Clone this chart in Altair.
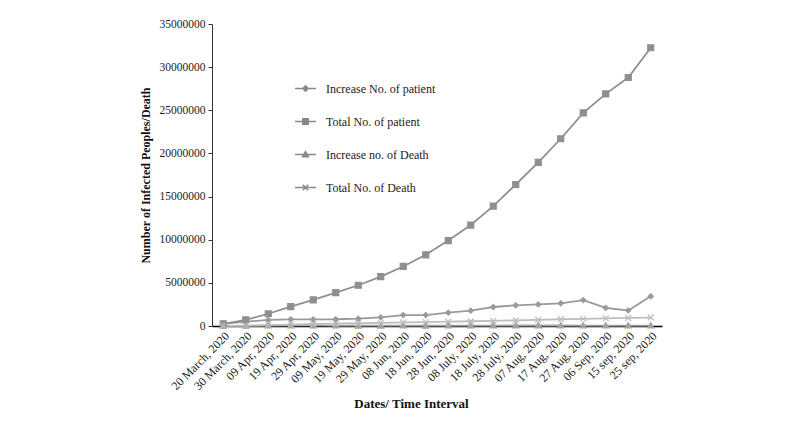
import altair as alt
import pandas as pd

dates = ["20 March, 2020", "30 March, 2020", "09 Apr, 2020", "19 Apr, 2020", "29 Apr, 2020",
         "09 May, 2020", "19 May, 2020", "29 May, 2020", "08 Jun, 2020", "18 Jun, 2020",
         "28 Jun, 2020", "08 July, 2020", "18 July, 2020", "28 July, 2020", "07 Aug, 2020",
         "17 Aug, 2020", "27 Aug, 2020", "06 Sep, 2020", "15 sep, 2020", "25 sep, 2020"]

inc_patient = [250000, 500000, 700000, 770000, 770000, 780000, 850000, 1000000, 1270000, 1270000,
               1550000, 1780000, 2200000, 2400000, 2500000, 2630000, 3000000, 2100000, 1800000, 3440000]
total_patient = [250000, 700000, 1420000, 2240000, 3020000, 3860000, 4720000, 5720000, 6900000, 8250000,
                 9900000, 11700000, 13900000, 16400000, 18970000, 21700000, 24700000, 26900000, 28800000, 32250000]
inc_death = [11000, 26000, 58000, 65000, 70000, 50000, 40000, 40000, 50000, 40000,
             50000, 50000, 50000, 60000, 60000, 60000, 50000, 50000, 50000, 50000]
total_death = [11000, 37000, 95000, 160000, 230000, 280000, 320000, 360000, 410000, 450000,
               500000, 550000, 600000, 660000, 720000, 780000, 830000, 880000, 930000, 980000]

series = ["Increase No. of patient", "Total No. of patient", "Increase no. of Death", "Total No. of Death"]
values = [inc_patient, total_patient, inc_death, total_death]

rows = []
for s, vals in zip(series, values):
    for d, v in zip(dates, vals):
        rows.append({"date": d, "series": s, "value": v})
df = pd.DataFrame(rows)

colors = ["#9a9a9a", "#8f8f8f", "#a3a3a3", "#bdbdbd"]
marker_paths = [
    "M0,-0.85L0.85,0L0,0.85L-0.85,0Z",
    "M-1,-1H1V1H-1Z",
    "M0,-1L1,0.8H-1Z",
    "M-1,-1L1,1M-1,1L1,-1",
]
legend_paths = [
    "M-1,0H1M0,-0.25L0.25,0L0,0.25L-0.25,0ZM-0.12,-0.12H0.12M-0.12,0.12H0.12",
    "M-1,0H1M-0.26,-0.26H0.26V0.26H-0.26ZM-0.26,-0.13H0.26M-0.26,0.13H0.26",
    "M-1,0H1M0,-0.28L0.28,0.22H-0.28ZM-0.14,-0.06H0.14M-0.22,0.1H0.22",
    "M-1,0H1M-0.26,-0.26L0.26,0.26M-0.26,0.26L0.26,-0.26",
]

font = "Liberation Serif"

x = alt.X("date:N", sort=dates,
          scale=alt.Scale(type="point", padding=0.5),
          axis=alt.Axis(title="Dates/ Time Interval", labelAngle=315, labelFont=font,
                        labelFontSize=12, labelColor="#222", ticks=False, domainColor="#000",
                        domainWidth=1.5, labelPadding=4, titleFont=font, titleFontSize=13,
                        titleFontWeight="bold", titleColor="#111", titleX=199, titleY=77,
                        titleBaseline="middle", grid=False))
y = alt.Y("value:Q", scale=alt.Scale(domain=[0, 35000000]),
          axis=alt.Axis(title="Number of Infected Peoples/Death", values=list(range(0, 35000001, 5000000)),
                        format="d", labelFont=font, labelFontSize=11.5, labelColor="#222",
                        tickSize=4, tickColor="#333", domainColor="#333", labelPadding=3,
                        titleFont=font, titleFontSize=12, titleFontWeight="bold",
                        titleColor="#111", titlePadding=7, grid=False))

stroke_scale = alt.Scale(domain=series, range=colors)

lines = alt.Chart(df).mark_line(strokeWidth=1.8).encode(
    x=x, y=y,
    stroke=alt.Stroke("series:N", scale=stroke_scale, legend=None),
)

points = alt.Chart(df).mark_point(filled=True, size=36, strokeWidth=1.2, opacity=1).encode(
    x=x, y=y,
    fill=alt.Fill("series:N", scale=stroke_scale, legend=None),
    stroke=alt.Stroke("series:N", scale=stroke_scale, legend=None),
    shape=alt.Shape("series:N", scale=alt.Scale(domain=series, range=marker_paths), legend=None),
)

leg = alt.Legend(title=None, orient="none", legendX=82, legendY=53, labelFont=font,
                 labelFontSize=12, labelColor="#222", symbolSize=441, symbolStrokeWidth=1.5,
                 symbolOpacity=1, rowPadding=15, labelOffset=9, labelLimit=300)

legend_layer = alt.Chart(df).mark_point(filled=False, opacity=0).encode(
    x=x, y=y,
    color=alt.Color("series:N", scale=alt.Scale(domain=series, range=colors), sort=series, legend=leg),
    shape=alt.Shape("series:N", scale=alt.Scale(domain=series, range=legend_paths), sort=series, legend=leg),
)

chart = alt.layer(lines, points, legend_layer).resolve_scale(shape="independent").properties(
    width=450, height=302,
    autosize=alt.AutoSizeParams(type="none"),
    padding={"left": 204, "top": 16, "right": 130, "bottom": 94},
    background="white",
).configure_view(stroke=None)

chart.save("out.html", embed_options={"renderer": "svg", "actions": False})
